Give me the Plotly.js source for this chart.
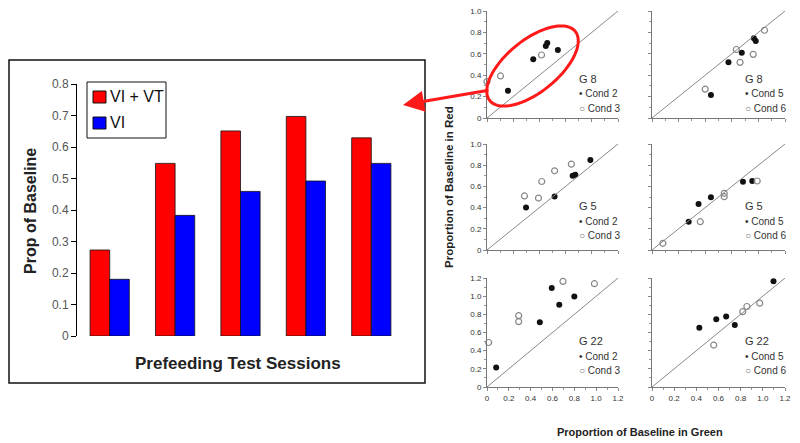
<!DOCTYPE html>
<html>
<head>
<meta charset="utf-8">
<script src="https://cdn.plot.ly/plotly-3.0.1.min.js"></script>
<style>
  html, body { margin: 0; padding: 0; background: #fff; }
  #chart { width: 800px; height: 443px; }
</style>
</head>
<body>
<div id="chart"></div>
<script>
// --- left: bar chart ---
const sessions = ['S1', 'S2', 'S3', 'S4', 'S5'];
const viVt = [0.273, 0.548, 0.651, 0.697, 0.629];
const vi = [0.18, 0.383, 0.459, 0.492, 0.548];
const barNames = ['VI + VT', 'VI'];
const barTickVals = [0, 0.1, 0.2, 0.3, 0.4, 0.5, 0.6, 0.7, 0.8];
const barTickText = ['0', '0.1', '0.2', '0.3', '0.4', '0.5', '0.6', '0.7', '0.8'];

// --- right: scatter panels (x = prop. baseline in green, y = in red) ---
const g8Cond2X = [0.16, 0.353, 0.449, 0.46, 0.541];
const g8Cond2Y = [0.255, 0.549, 0.673, 0.70, 0.636];
const g8Cond3X = [0.0, 0.103, 0.416];
const g8Cond3Y = [0.34, 0.393, 0.589];

const g8Cond5X = [0.443, 0.575, 0.675, 0.766, 0.78];
const g8Cond5Y = [0.215, 0.52, 0.61, 0.745, 0.72];
const g8Cond6X = [0.40, 0.634, 0.662, 0.761, 0.846];
const g8Cond6Y = [0.27, 0.64, 0.52, 0.595, 0.82];

const g5Cond2X = [0.298, 0.516, 0.654, 0.674, 0.789];
const g5Cond2Y = [0.40, 0.505, 0.70, 0.71, 0.85];
const g5Cond3X = [0.286, 0.393, 0.418, 0.516, 0.644];
const g5Cond3Y = [0.51, 0.49, 0.646, 0.747, 0.81];

const g5Cond5X = [0.276, 0.35, 0.443, 0.684, 0.754];
const g5Cond5Y = [0.267, 0.434, 0.497, 0.644, 0.651];
const g5Cond6X = [0.082, 0.363, 0.543, 0.543, 0.791];
const g5Cond6Y = [0.063, 0.267, 0.535, 0.503, 0.651];

const g22Cond2X = [0.084, 0.484, 0.593, 0.662, 0.80];
const g22Cond2Y = [0.215, 0.713, 1.09, 0.905, 0.997];
const g22Cond3X = [0.015, 0.29, 0.29, 0.696, 0.984];
const g22Cond3Y = [0.49, 0.786, 0.72, 1.163, 1.137];

const g22Cond5X = [0.427, 0.58, 0.669, 0.747, 1.096];
const g22Cond5Y = [0.653, 0.746, 0.775, 0.683, 1.163];
const g22Cond6X = [0.557, 0.819, 0.856, 0.972];
const g22Cond6Y = [0.462, 0.83, 0.886, 0.923];

const rangeShort = [0, 1.0];
const rangeTall = [0, 1.2];
const tickValsShort = [0, 0.2, 0.4, 0.6, 0.8, 1.0];
const tickTextShort = ['0', '0.2', '0.4', '0.6', '0.8', '1.0'];
const tickValsTall = [0, 0.2, 0.4, 0.6, 0.8, 1.0, 1.2];
const tickTextTall = ['0', '0.2', '0.4', '0.6', '0.8', '1.0', '1.2'];

const W = 800, H = 443;
const px = x => x / W;          // pixel -> paper x
const py = y => 1 - y / H;      // pixel -> paper y

const panels = [
  { ax: 2, group: 'G 8',  names: ['Cond 2', 'Cond 3'], fx: g8Cond2X,  fy: g8Cond2Y,  ox: g8Cond3X,  oy: g8Cond3Y,  range: rangeShort, col: 0, row: 0 },
  { ax: 3, group: 'G 8',  names: ['Cond 5', 'Cond 6'], fx: g8Cond5X,  fy: g8Cond5Y,  ox: g8Cond6X,  oy: g8Cond6Y,  range: rangeShort, col: 1, row: 0 },
  { ax: 4, group: 'G 5',  names: ['Cond 2', 'Cond 3'], fx: g5Cond2X,  fy: g5Cond2Y,  ox: g5Cond3X,  oy: g5Cond3Y,  range: rangeShort, col: 0, row: 1 },
  { ax: 5, group: 'G 5',  names: ['Cond 5', 'Cond 6'], fx: g5Cond5X,  fy: g5Cond5Y,  ox: g5Cond6X,  oy: g5Cond6Y,  range: rangeShort, col: 1, row: 1 },
  { ax: 6, group: 'G 22', names: ['Cond 2', 'Cond 3'], fx: g22Cond2X, fy: g22Cond2Y, ox: g22Cond3X, oy: g22Cond3Y, range: rangeTall,  col: 0, row: 2 },
  { ax: 7, group: 'G 22', names: ['Cond 5', 'Cond 6'], fx: g22Cond5X, fy: g22Cond5Y, ox: g22Cond6X, oy: g22Cond6Y, range: rangeTall,  col: 1, row: 2 }
];

// pixel boxes of the scatter panels
const colX = [[487, 618], [652, 785]];
const rowY = [[11, 118], [144, 250], [278, 387]];
const legendLeft = [577, 743];
const legendTop = [79, 206, 341];

const font = 'Arial, "Liberation Sans", sans-serif';
const barColors = ['#ff0000', '#0000ff'];

const traces = [
  { type: 'bar', x: sessions, y: viVt, name: barNames[0], xaxis: 'x', yaxis: 'y',
    marker: { color: barColors[0], line: { color: '#111', width: 0.8 } } },
  { type: 'bar', x: sessions, y: vi, name: barNames[1], xaxis: 'x', yaxis: 'y',
    marker: { color: barColors[1], line: { color: '#111', width: 0.8 } } }
];

const paperNote = (x, y, text, size, extra) => Object.assign({
  xref: 'paper', yref: 'paper', x: px(x), y: py(y), text: text, showarrow: false,
  xanchor: 'center', yanchor: 'middle', font: { size: size, color: '#222', family: font }
}, extra || {});

const layout = {
  width: W, height: H,
  margin: { l: 0, r: 0, t: 0, b: 0 },
  paper_bgcolor: '#fff', plot_bgcolor: 'rgba(0,0,0,0)',
  font: { family: font, color: '#222' },
  barmode: 'group', bargap: 0.4, bargroupgap: 0,
  showlegend: false,
  xaxis: {
    domain: [px(77), px(404)], anchor: 'y',
    showticklabels: false, ticks: '', showgrid: false, showline: false, zeroline: false
  },
  yaxis: {
    domain: [py(336), py(84)], anchor: 'x', range: [0, 0.8],
    tickvals: barTickVals, ticktext: barTickText,
    ticks: 'outside', ticklen: 5, tickcolor: '#000',
    showline: true, linecolor: '#000', linewidth: 1,
    showgrid: false, zeroline: false,
    tickfont: { size: 12, color: '#555', family: font }
  },
  shapes: [
    // frame round the bar chart
    { type: 'rect', xref: 'paper', yref: 'paper', x0: px(9), x1: px(425), y0: py(383), y1: py(60),
      line: { color: '#111', width: 1.5 } },
    // legend box and swatches
    { type: 'rect', xref: 'paper', yref: 'paper', x0: px(87), x1: px(166), y0: py(138), y1: py(82),
      line: { color: '#111', width: 1 }, fillcolor: '#fff' },
    { type: 'rect', xref: 'paper', yref: 'paper', x0: px(93), x1: px(106), y0: py(103), y1: py(91),
      line: { color: '#111', width: 1 }, fillcolor: barColors[0] },
    { type: 'rect', xref: 'paper', yref: 'paper', x0: px(93), x1: px(106), y0: py(129), y1: py(117),
      line: { color: '#111', width: 1 }, fillcolor: barColors[1] }
  ],
  annotations: [
    paperNote(108, 97, barNames[0], 16, { xanchor: 'left', font: { size: 16, color: '#111', family: font } }),
    paperNote(108, 123, barNames[1], 16, { xanchor: 'left', font: { size: 16, color: '#111', family: font } }),
    paperNote(30, 211, '<b>Prop of Baseline</b>', 16, { textangle: -90 }),
    paperNote(238, 363, '<b>Prefeeding Test Sessions</b>', 17),
    paperNote(449, 187, '<b>Proportion of Baseline in Red</b>', 11.5, { textangle: -90 }),
    paperNote(640, 432, '<b>Proportion of Baseline in Green</b>', 11)
  ]
};

panels.forEach(p => {
  const xa = 'x' + p.ax, ya = 'y' + p.ax;
  const cx = colX[p.col], ry = rowY[p.row];
  const tv = p.range === rangeTall ? tickValsTall : tickValsShort;
  const tt = p.range === rangeTall ? tickTextTall : tickTextShort;
  const axisStyle = {
    range: p.range, tickvals: tv, ticktext: tt,
    ticks: 'outside', ticklen: 3, tickcolor: '#888', tickwidth: 1,
    minor: { dtick: 0.1, ticks: 'outside', ticklen: 2, tickcolor: '#999' },
    showline: true, linecolor: '#777', linewidth: 1,
    showgrid: false, zeroline: false,
    tickfont: { size: 8, color: '#333', family: font }
  };
  layout['xaxis' + p.ax] = Object.assign({}, axisStyle, {
    domain: [px(cx[0]), px(cx[1])], anchor: ya, showticklabels: p.row === 2
  });
  layout['yaxis' + p.ax] = Object.assign({}, axisStyle, {
    domain: [py(ry[1]), py(ry[0])], anchor: xa, showticklabels: p.col === 0
  });

  // line of equality across the panel
  layout.shapes.push({ type: 'line', xref: xa, yref: ya,
    x0: p.range[0], y0: p.range[0], x1: p.range[1], y1: p.range[1],
    line: { color: '#888', width: 1 } });

  traces.push({ type: 'scatter', mode: 'markers', x: p.fx, y: p.fy, xaxis: xa, yaxis: ya,
    showlegend: false, cliponaxis: false,
    marker: { symbol: 'circle', size: 6, color: '#111' } });
  traces.push({ type: 'scatter', mode: 'markers', x: p.ox, y: p.oy, xaxis: xa, yaxis: ya,
    showlegend: false, cliponaxis: false,
    marker: { symbol: 'circle-open', size: 6, color: '#888', line: { width: 1.2 } } });

  const lx = legendLeft[p.col], ly = legendTop[p.row];
  layout.annotations.push(
    paperNote(lx, ly, p.group, 11, { xanchor: 'left', font: { size: 11, color: '#333', family: font } }),
    paperNote(lx, ly + 15, '• ' + p.names[0], 10, { xanchor: 'left', font: { size: 10, color: '#333', family: font } }),
    paperNote(lx, ly + 29, '<span style="color:#777">○</span> ' + p.names[1], 10,
      { xanchor: 'left', font: { size: 10, color: '#333', family: font } })
  );
});

// red ellipse round the G 8 points (decoration, in pixels)
const ell = { cx: 532.5, cy: 66, a: 55, b: 26, deg: 39 };
const th = ell.deg * Math.PI / 180;
let d = '';
for (let i = 0; i <= 72; i++) {
  const t = i / 72 * 2 * Math.PI;
  const ex = ell.cx + ell.a * Math.cos(t) * Math.cos(th) - ell.b * Math.sin(t) * Math.sin(th);
  const ey = ell.cy - (ell.a * Math.cos(t) * Math.sin(th) + ell.b * Math.sin(t) * Math.cos(th));
  d += (i === 0 ? 'M' : 'L') + px(ex).toFixed(5) + ',' + py(ey).toFixed(5);
}
d += 'Z';
layout.shapes.push({ type: 'path', xref: 'paper', yref: 'paper', path: d,
  line: { color: '#ff1a1a', width: 3 } });

// red arrow from the ellipse to the bar chart
layout.annotations.push({ xref: 'paper', yref: 'paper', x: px(403), y: py(105),
  ax: 87, ay: -15, text: '', showarrow: true,
  arrowhead: 2, arrowsize: 1.4, arrowwidth: 3, arrowcolor: '#ff1a1a' });

Plotly.newPlot('chart', traces, layout, { displayModeBar: false, staticPlot: true });
</script>
</body>
</html>
